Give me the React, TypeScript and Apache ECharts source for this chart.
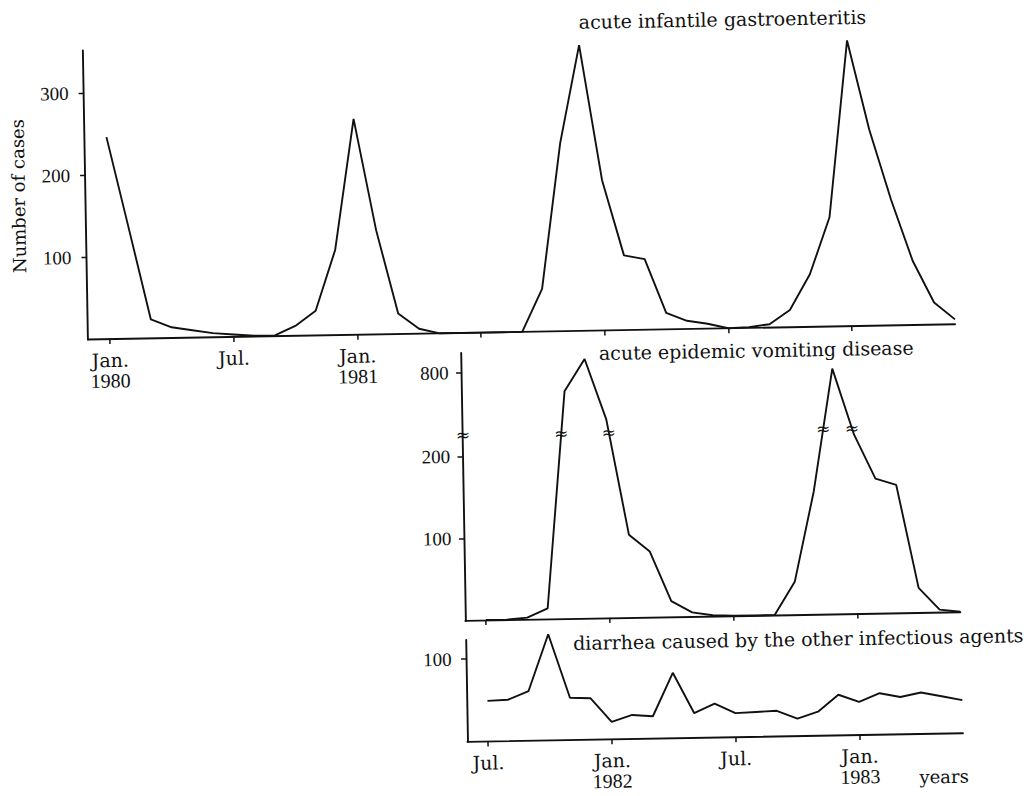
import React, { useEffect, useRef } from "react";
import * as echarts from "echarts";

// month index: 0 = Jan. 1980
const gastroStart = 0; // Jan. 1980
const gastroValues = [
  246, 135, 23, 13, 9, 5, 3, 1, 1, 12, 30, 104,
  263, 127, 25, 6, 0, 0, 0, 0, 0, 52, 229, 348,
  183, 91, 86, 20, 10, 6, 0, 1, 4, 21, 64, 133,
  348, 239, 153, 78, 27, 6,
];

const vomitStart = 18; // Jul. 1981
const vomitValues = [
  0, 0, 2, 13, 775, 814, 740, 101, 80, 19, 5, 1,
  0, 0, 0, 40, 150, 797, 218, 164, 156, 30, 3, 0,
];
const vomitBreak = [226, 724];

const diarrheaStart = 18; // Jul. 1981
const diarrheaValues = [
  49, 50, 60, 128, 51, 50, 21, 29, 27, 79, 30, 41,
  29, 30, 31, 21, 29, 49, 40, 50, 45, 50, 45, 40,
];

const tickMonthIndex = [0, 6, 12, 18, 24, 30, 36];
const tickMonthName = ["Jan.", "Jul.", "Jan.", "Jul.", "Jan.", "Jul.", "Jan."];
const tickYear = ["1980", "", "1981", "", "1982", "", "1983"];
const topLabelMonths = [0, 6, 12];
const lowerTickMonths = [18, 24, 30, 36];

const gastroYTicks = [100, 200, 300];
const vomitYTicks = [100, 200, 800];
const diarrheaYTicks = [100];

const panelTitles = [
  "acute infantile gastroenteritis",
  "acute epidemic vomiting disease",
  "diarrhea caused by the other infectious agents",
];
const yAxisTitle = "Number of cases";
const xAxisTitle = "years";

const INK = "#111";
const SERIF = "DejaVu Serif";
const DIGITS = "Liberation Serif";

function pairs(start: number, values: number[]) {
  return values.map((v, i) => [start + i, v]);
}

function monthFormatter(v: number) {
  const i = tickMonthIndex.indexOf(Math.round(v));
  if (i < 0) return "";
  return tickYear[i]
    ? `{m|${tickMonthName[i]}}\n{y|${tickYear[i]}}`
    : `{m|${tickMonthName[i]}}`;
}

const richLabels = {
  m: { fontFamily: SERIF, fontSize: 19, lineHeight: 20, color: INK },
  y: { fontFamily: DIGITS, fontSize: 20, lineHeight: 21, color: INK },
};

function xAxisDef(gridIndex: number, min: number, max: number, ticks: number[], labels: number[] | null) {
  return {
    type: "value",
    gridIndex,
    min,
    max,
    axisLine: { show: true, onZero: false, lineStyle: { color: INK, width: 1.9 } },
    axisTick: { show: true, customValues: ticks, length: 5, inside: false, lineStyle: { color: INK, width: 1.5 } },
    axisLabel: labels
      ? { show: true, customValues: labels, formatter: monthFormatter, margin: 11, rich: richLabels, hideOverlap: false }
      : { show: false },
    splitLine: { show: false },
  };
}

function yAxisDef(gridIndex: number, max: number, ticks: number[], margin: number, extra: any = {}) {
  return {
    type: "value",
    gridIndex,
    min: 0,
    max,
    axisLine: { show: true, onZero: false, lineStyle: { color: INK, width: 1.9 } },
    axisTick: { show: true, customValues: ticks, length: 5, inside: false, lineStyle: { color: INK, width: 1.5 } },
    axisLabel: {
      show: true,
      customValues: ticks,
      margin,
      fontFamily: DIGITS,
      fontSize: 19,
      color: INK,
      hideOverlap: false,
    },
    splitLine: { show: false },
    ...extra,
  };
}

function lineSeries(idx: number, data: number[][]) {
  return {
    type: "line",
    xAxisIndex: idx,
    yAxisIndex: idx,
    data,
    symbol: "none",
    clip: false,
    lineStyle: { color: INK, width: 1.9 },
  };
}

function textEl(text: string, x: number, y: number, size: number, family = SERIF, rotation = 0) {
  return {
    type: "text",
    x,
    y,
    rotation,
    style: {
      text,
      fontFamily: family,
      fontSize: size,
      fill: INK,
      textAlign: "center",
      textVerticalAlign: "middle",
    },
  };
}

export default function App() {
  const ref = useRef<HTMLDivElement>(null);

  useEffect(() => {
    if (!ref.current) return;
    const chart = echarts.init(ref.current, null, { renderer: "svg" });
    const option: any = {
      animation: false,
      grid: [
        { left: 89, top: 43, width: 867.3, height: 289 },
        { left: 461.5, top: 352, width: 495, height: 267.5 },
        { left: 461.5, top: 639, width: 495.5, height: 102 },
      ],
      xAxis: [
        xAxisDef(0, -1.07, 41, tickMonthIndex, topLabelMonths),
        xAxisDef(1, 17, 41, lowerTickMonths, null),
        xAxisDef(2, 17, 41, lowerTickMonths, lowerTickMonths),
      ],
      yAxis: [
        yAxisDef(0, 352, gastroYTicks, 15, {
          name: yAxisTitle,
          nameLocation: "middle",
          nameGap: 58,
          nameTextStyle: { fontFamily: SERIF, fontSize: 18, color: INK },
        }),
        yAxisDef(1, 824, vomitYTicks, 12.5, {
          breaks: [{ start: vomitBreak[0], end: vomitBreak[1], gap: 0 }],
          breakArea: { show: false },
        }),
        yAxisDef(2, 123, diarrheaYTicks, 14.5),
      ],
      series: [
        lineSeries(0, pairs(gastroStart, gastroValues)),
        lineSeries(1, pairs(vomitStart, vomitValues)),
        lineSeries(2, pairs(diarrheaStart, diarrheaValues)),
      ],
    };
    chart.setOption(option);

    const titles = [
      textEl(panelTitles[0], 729, 23, 19),
      textEl(panelTitles[1], 757, 354.5, 19),
      textEl(panelTitles[2], 794, 644, 19),
      textEl(xAxisTitle, 937.4, 784, 18),
    ];

    const marks: any[] = [];
    const mark = (x: number, y: number) => ({
      type: "text",
      x,
      y,
      z: 10,
      style: {
        text: "≈",
        fontFamily: "DejaVu Sans",
        fontSize: 17,
        fill: INK,
        textAlign: "center",
        textVerticalAlign: "middle",
      },
    });
    try {
      const yb = chart.convertToPixel({ yAxisIndex: 1 } as any, vomitBreak[0]) as unknown as number;
      const xl = chart.convertToPixel({ xAxisIndex: 1 } as any, 17) as unknown as number;
      marks.push(mark(xl + 1, yb));
      for (let i = 0; i < vomitValues.length - 1; i++) {
        const a = vomitValues[i];
        const b = vomitValues[i + 1];
        const crosses =
          (a <= vomitBreak[0] && b >= vomitBreak[1]) || (b <= vomitBreak[0] && a >= vomitBreak[1]);
        if (!crosses) continue;
        const pa = chart.convertToPixel({ gridIndex: 1 } as any, [vomitStart + i, a]) as number[];
        const pb = chart.convertToPixel({ gridIndex: 1 } as any, [vomitStart + i + 1, b]) as number[];
        const t = (yb - pa[1]) / (pb[1] - pa[1]);
        marks.push(mark(pa[0] + t * (pb[0] - pa[0]), yb));
      }
    } catch (e) {
      // ignore
    }
    chart.setOption({ graphic: { elements: [...titles, ...marks] } });

    return () => chart.dispose();
  }, []);

  return (
    <div
      ref={ref}
      style={{
        position: "absolute",
        left: 0,
        top: 0,
        width: 1030,
        height: 796,
        transform: "rotate(-1deg)",
        transformOrigin: "515px 398px",
      }}
    />
  );
}
